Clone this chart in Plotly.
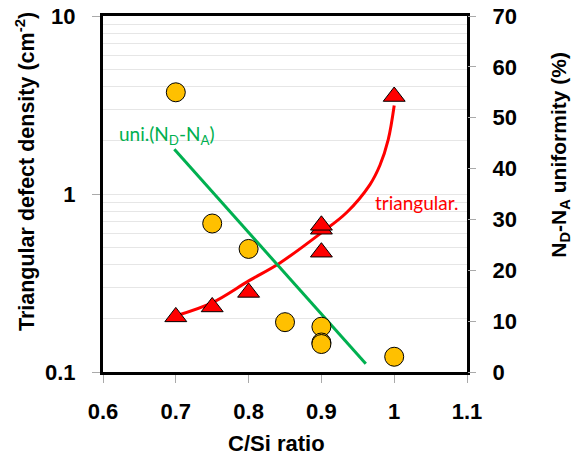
import plotly.graph_objects as go

# Triangular defect density (left, log axis)
tri_x = [0.70, 0.75, 0.80, 0.90, 0.90, 0.90, 1.00]
tri_y = [0.204, 0.232, 0.280, 0.471, 0.634, 0.667, 3.53]

# ND-NA uniformity (right axis, %)
uni_x = [0.70, 0.75, 0.80, 0.85, 0.90, 0.90, 0.90, 1.00]
uni_y = [55.0, 29.2, 24.2, 9.8, 8.9, 5.8, 5.5, 3.0]

# Fit line for uniformity
uni_fit_x = [0.698, 0.961]
uni_fit_y = [43.8, 1.6]

# Fit curve for triangular defects
tri_fit_x = [0.7015, 0.7495, 0.8007, 0.843, 0.9004, 0.9347, 0.9667, 0.9804, 0.9918, 1.0]
tri_fit_y = [0.2076, 0.2445, 0.326, 0.41, 0.608, 0.787, 1.13, 1.45, 2.02, 3.14]

x_ticks = [0.6, 0.7, 0.8, 0.9, 1.0, 1.1]
x_ticklabels = ["0.6", "0.7", "0.8", "0.9", "1", "1.1"]
y_ticks = [0.1, 1, 10]
y_ticklabels = ["0.1", "1", "10"]
y2_ticks = [0, 10, 20, 30, 40, 50, 60, 70]

RED = "#FF0000"
GREEN = "#00B050"
GOLD = "#FFC000"
tickfont = dict(family="Liberation Sans", size=22, color="black", weight="bold")

fig = go.Figure()
fig.add_trace(go.Scatter(x=uni_fit_x, y=uni_fit_y, mode="lines", yaxis="y2",
                         line=dict(color=GREEN, width=3), showlegend=False))
fig.add_trace(go.Scatter(x=tri_fit_x, y=tri_fit_y, mode="lines", line_shape="spline",
                         line=dict(color=RED, width=3, smoothing=1.0), showlegend=False))
fig.add_trace(go.Scatter(x=uni_x, y=uni_y, mode="markers", yaxis="y2",
                         marker=dict(symbol="circle", size=19, color=GOLD,
                                     line=dict(color="black", width=1)), showlegend=False))
fig.add_trace(go.Scatter(x=tri_x, y=tri_y, mode="markers",
                         marker=dict(symbol="triangle-up", size=19, color=RED,
                                     line=dict(color="black", width=1)), showlegend=False))

fig.update_layout(
    width=576, height=457,
    margin=dict(l=103, r=109, t=16, b=85, autoexpand=False),
    plot_bgcolor="white", paper_bgcolor="white",
    xaxis=dict(range=[0.6, 1.1], tickvals=x_ticks, ticktext=x_ticklabels, automargin=False,
               tickfont=tickfont, ticks="outside", ticklen=8, tickcolor="#aaaaaa",
               showgrid=False, zeroline=False, showline=True, linecolor="black",
               linewidth=3, mirror=True, ticklabelstandoff=10),
    yaxis=dict(type="log", range=[-1, 1], tickvals=y_ticks, ticktext=y_ticklabels,
               automargin=False,
               tickfont=tickfont, ticks="outside", ticklen=8, tickcolor="#aaaaaa",
               showgrid=True, gridcolor="#e6e6e6", gridwidth=1,
               minor=dict(dtick="D1", showgrid=True, gridcolor="#e6e6e6", ticks=""),
               zeroline=False, showline=True, linecolor="black", linewidth=3,
               mirror=True, ticklabelstandoff=12),
    yaxis2=dict(overlaying="y", side="right", range=[0, 70], tickvals=y2_ticks,
                automargin=False,
                tickfont=tickfont, ticks="outside", ticklen=8, tickcolor="#aaaaaa",
                showgrid=False, zeroline=False, showline=False, ticklabelstandoff=12),
    annotations=[
        dict(text="Triangular defect density (cm<sup>-2</sup>)", xref="paper", yref="paper",
             x=-0.214, y=0.562, textangle=-90, showarrow=False, xanchor="center", yanchor="middle",
             font=dict(family="Liberation Sans", size=21.5, color="black", weight="bold")),
        dict(text="N<sub>D</sub>-N<sub>A</sub> uniformity (%)", xref="paper", yref="paper",
             x=1.255, y=0.61, textangle=-90, showarrow=False, xanchor="center", yanchor="middle",
             font=dict(family="Liberation Sans", size=21, color="black", weight="bold")),
        dict(text="C/Si ratio", xref="paper", yref="paper", x=0.478, y=-0.202,
             showarrow=False, xanchor="center", yanchor="middle",
             font=dict(family="Liberation Sans", size=22, color="black", weight="bold")),
        dict(text="uni.(N<sub>D</sub>-N<sub>A</sub>)", xref="x", yref="y2", x=0.6875, y=46.6,
             showarrow=False, xanchor="center", yanchor="middle",
             font=dict(family="Lato", size=19, color=GREEN)),
        dict(text="triangular.", xref="x", yref="y", x=1.030, y=-0.046,
             showarrow=False, xanchor="center", yanchor="middle",
             font=dict(family="Lato", size=19, color=RED)),
    ],
)

fig.write_html("out.html", config={"displayModeBar": False},
               post_script="document.body.style.margin='0';")
